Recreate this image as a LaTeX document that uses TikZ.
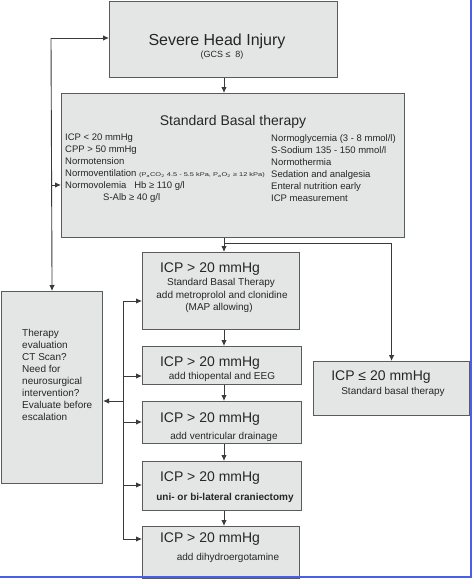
\documentclass[tikz,border=0pt]{standalone}
\usepackage{fontspec}
\setmainfont{Liberation Sans}
\usetikzlibrary{arrows.meta}
\definecolor{boxfill}{HTML}{E4E6E6}
\definecolor{boxline}{HTML}{5A5C5C}
\definecolor{arrline}{HTML}{3A3A3A}
\definecolor{frameblue}{HTML}{4A5EE6}
\tikzset{
  box/.style={draw=boxline, fill=boxfill, line width=1.1pt, inner sep=0pt, anchor=north west},
  conn/.style={draw=arrline, line width=0.9pt},
  arr/.style={conn, -{Latex[length=6pt,width=5.5pt]}},
  txt/.style={inner sep=0pt, text=black!85},
  big/.style={txt, font=\fontsize{16}{18}\selectfont},
  mid/.style={txt, font=\fontsize{14}{16}\selectfont},
  sml/.style={txt, font=\fontsize{10}{12}\selectfont},
  col/.style={txt, font=\fontsize{9.5}{12}\selectfont, align=left, anchor=north west},
}
\begin{document}
\begin{tikzpicture}[x=1pt,y=-1pt]
\useasboundingbox (0,0) rectangle (474,584);
\fill[white] (0,0) rectangle (474,584);
% boxes
\node[box, minimum width=228pt, minimum height=76pt] (shi) at (109,1) {};
\node[box, minimum width=343pt, minimum height=144pt] (sbt) at (61,93) {};
\node[box, minimum width=157pt, minimum height=77pt] (i1) at (142,252) {};
\node[box, minimum width=159pt, minimum height=38pt] (i2) at (142,346) {};
\node[box, minimum width=159pt, minimum height=42pt] (i3) at (142,401) {};
\node[box, minimum width=159pt, minimum height=49pt] (i4) at (142,461) {};
\node[box, minimum width=157pt, minimum height=52pt] (i5) at (142,526) {};
\node[box, minimum width=156pt, minimum height=54pt] (low) at (313,361) {};
\node[box, minimum width=101pt, minimum height=192pt] (ther) at (1,291) {};
% texts
\node[big] (t1) at (217,41) {Severe Head Injury};
\node[txt, font=\fontsize{9}{10}\selectfont] (t2) at (222,55) {(GCS ≤\ \ 8)};
\node[mid] (t3) at (233,122) {Standard Basal therapy};
\node[col] (t4) at (65,134) {ICP < 20 mmHg\\CPP > 50 mmHg\\Normotension\\Normoventilation {\fontsize{5.5}{6}\selectfont\scalebox{1.35}[1]{(P\textsubscript{a}CO\textsubscript{2} 4.5 - 5.5 kPa, P\textsubscript{a}O\textsubscript{2} ≥ 12 kPa)}}\\Normovolemia\ \ \ Hb ≥ 110 g/l\\\hspace*{38pt}S-Alb ≥ 40 g/l};
\node[col] (t5) at (271,134) {Normoglycemia (3 - 8 mmol/l)\\S-Sodium 135 - 150 mmol/l\\Normothermia\\Sedation and analgesia\\Enteral nutrition early\\ICP measurement};
\node[mid] (a1) at (210,269) {ICP > 20 mmHg};
\node[sml] (a2) at (221,283) {Standard Basal Therapy};
\node[sml] (a3) at (222,296) {add metroprolol and clonidine};
\node[sml] (a4) at (219,308) {(MAP allowing)};
\node[mid] (b1) at (210,363) {ICP > 20 mmHg};
\node[sml] (b2) at (222,377) {add thiopental and EEG};
\node[mid] (c1) at (210,419) {ICP > 20 mmHg};
\node[sml] (c2) at (224,437) {add ventricular drainage};
\node[mid] (d1) at (210,478) {ICP > 20 mmHg};
\node[sml, font=\fontsize{10}{12}\selectfont\bfseries] (d2) at (225,498) {uni- or bi-lateral craniectomy};
\node[mid] (e1) at (210,539) {ICP > 20 mmHg};
\node[sml] (e2) at (228,558) {add dihydroergotamine};
\node[mid] (f1) at (381,377) {ICP ≤ 20 mmHg};
\node[sml] (f2) at (393,392) {Standard basal therapy};
\node[col, font=\fontsize{10}{12}\selectfont] (g1) at (22,329) {Therapy\\evaluation\\CT Scan?\\Need for\\neurosurgical\\intervention?\\Evaluate before\\escalation};
% main vertical chain at x = 224
\coordinate (rb) at (224,243);
\draw[arr] (shi.south -| rb) -- (sbt.north -| rb);
\draw[arr] (sbt.south -| rb) -- (i1.north -| rb);
\draw[arr] (i1.south -| rb) -- (i2.north -| rb);
\draw[arr] (i2.south -| rb) -- (i3.north -| rb);
\draw[arr] (i3.south -| rb) -- (i4.north -| rb);
\draw[arr] (i4.south -| rb) -- (i5.north -| rb);
\draw[arr] (rb) -| (low.north);
% left loop
\coordinate (lt) at (51,38);
\coordinate (lm) at (51,185);
\draw[arr] (lt) -- (ther.north);
\draw[arr] (lt) -- (lt -| shi.west);
\draw[arr] (lm) -- (lm -| sbt.west);
% escalation bus
\coordinate (bt) at (123,301);
\coordinate (b2c) at (123,376);
\coordinate (bm) at (123,401);
\coordinate (b3c) at (123,422);
\coordinate (b4c) at (123,485);
\coordinate (bb) at (123,539);
\draw[conn] (bt) -- (bb);
\draw[arr] (bt) -- (bt -| i1.west);
\draw[arr] (b2c) -- (b2c -| i2.west);
\draw[arr] (b3c) -- (b3c -| i3.west);
\draw[arr] (b4c) -- (b4c -| i4.west);
\draw[arr] (bb) -- (bb -| i5.west);
\draw[arr] (bm) -- (bm -| ther.east);
% frame
\draw[frameblue, line width=2pt] (471,0) -- (471,577) -- (0,577);
\end{tikzpicture}
\end{document}
